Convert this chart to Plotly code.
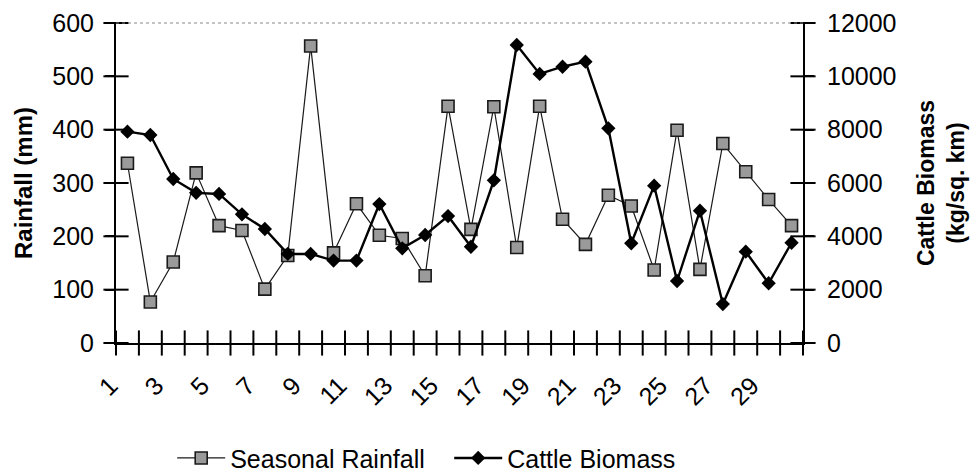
import plotly.graph_objects as go

# Survey seasons 1..30
seasons = list(range(1, 31))

# Seasonal rainfall (mm), left axis
rainfall = [337, 77, 152, 319, 220, 211, 101, 164, 557, 169,
            261, 202, 196, 126, 444, 213, 443, 179, 444, 232,
            185, 277, 257, 137, 399, 138, 374, 321, 269, 220]

# Cattle biomass (kg/sq. km), right axis
cattle = [7925, 7800, 6150, 5630, 5590, 4825, 4275, 3340, 3340, 3090,
          3090, 5210, 3550, 4050, 4760, 3610, 6100, 11175, 10090, 10360,
          10550, 8050, 3740, 5900, 2325, 4960, 1460, 3425, 2240, 3760]

# Axis tick settings
x_labels = [s for s in seasons if s % 2 == 1]
rain_ticks = list(range(0, 601, 100))
cattle_ticks = list(range(0, 12001, 2000))

FONT = "Liberation Sans, Arial, sans-serif"
TICK_SIZE = 25

fig = go.Figure()

fig.add_trace(go.Scatter(
    x=seasons, y=rainfall, name="Seasonal Rainfall",
    mode="lines+markers",
    line=dict(color="#1a1a1a", width=1.2),
    marker=dict(symbol="square", size=12, color="#9a9a9a",
                line=dict(color="#1a1a1a", width=1.6)),
    yaxis="y",
))

fig.add_trace(go.Scatter(
    x=seasons, y=cattle, name="Cattle Biomass",
    mode="lines+markers",
    line=dict(color="black", width=2.4),
    marker=dict(symbol="diamond", size=11, color="black"),
    yaxis="y2",
))

# Cross-style tick marks: category boundaries on the x axis
bounds = [s - 0.5 for s in seasons] + [seasons[-1] + 0.5]
fig.add_trace(go.Scatter(
    x=bounds, y=[0] * len(bounds), mode="markers", showlegend=False,
    hoverinfo="skip", cliponaxis=False,
    marker=dict(symbol="line-ns", size=18, line=dict(color="black", width=2)),
))
# Cross ticks on the left axis
fig.add_trace(go.Scatter(
    x=[bounds[0]] * len(rain_ticks), y=rain_ticks, mode="markers",
    showlegend=False, hoverinfo="skip", cliponaxis=False,
    marker=dict(symbol="line-ew", size=18, line=dict(color="black", width=2)),
))
# Cross ticks on the right axis
fig.add_trace(go.Scatter(
    x=[bounds[-1]] * len(cattle_ticks), y=cattle_ticks, mode="markers",
    showlegend=False, hoverinfo="skip", cliponaxis=False, yaxis="y2",
    marker=dict(symbol="line-ew", size=18, line=dict(color="black", width=2)),
))

fig.update_layout(
    width=971, height=475,
    margin=dict(l=116, r=168, t=23, b=132, autoexpand=False),
    paper_bgcolor="white", plot_bgcolor="white",
    font=dict(family=FONT, color="black", size=TICK_SIZE),
    xaxis=dict(
        range=[bounds[0], bounds[-1]], automargin=False,
        tickmode="array", tickvals=x_labels, ticktext=[str(v) for v in x_labels],
        tickangle=-45, ticks="", showgrid=False, zeroline=False,
        ticklabelstandoff=16, ticklabelshift=-17,
        showline=True, linecolor="black", linewidth=2,
        tickfont=dict(size=TICK_SIZE),
    ),
    yaxis=dict(
        range=[0, 600], automargin=False,
        tickmode="array", tickvals=rain_ticks,
        ticktext=[str(v) for v in rain_ticks],
        ticks="outside", ticklen=9, tickwidth=2, tickcolor="black",
        ticklabelstandoff=6,
        showgrid=False, zeroline=False,
        showline=True, linecolor="black", linewidth=2,
        tickfont=dict(size=TICK_SIZE),
        title=dict(text="<b>Rainfall (mm)</b>", font=dict(size=24), standoff=13),
    ),
    yaxis2=dict(
        range=[0, 12000], automargin=False,
        tickmode="array", tickvals=cattle_ticks,
        ticktext=[str(v) for v in cattle_ticks],
        overlaying="y", side="right",
        ticks="outside", ticklen=9, tickwidth=2, tickcolor="black",
        ticklabelstandoff=8,
        showgrid=False, zeroline=False,
        showline=True, linecolor="black", linewidth=2,
        tickfont=dict(size=TICK_SIZE),
        title=dict(text="<b>Cattle Biomass</b><br><b>(kg/sq. km)</b>",
                   font=dict(size=23), standoff=22),
    ),
    legend=dict(
        orientation="h", x=0.485, xanchor="center", y=-0.36, yanchor="middle",
        font=dict(size=25), bgcolor="rgba(0,0,0,0)",
        itemwidth=48, entrywidth=214, entrywidthmode="pixels",
    ),
    shapes=[dict(
        type="line", xref="paper", yref="paper", x0=0, x1=1, y0=1, y1=1,
        line=dict(color="#888888", width=1, dash="dot"),
    )],
)

fig.write_html("out.html")
